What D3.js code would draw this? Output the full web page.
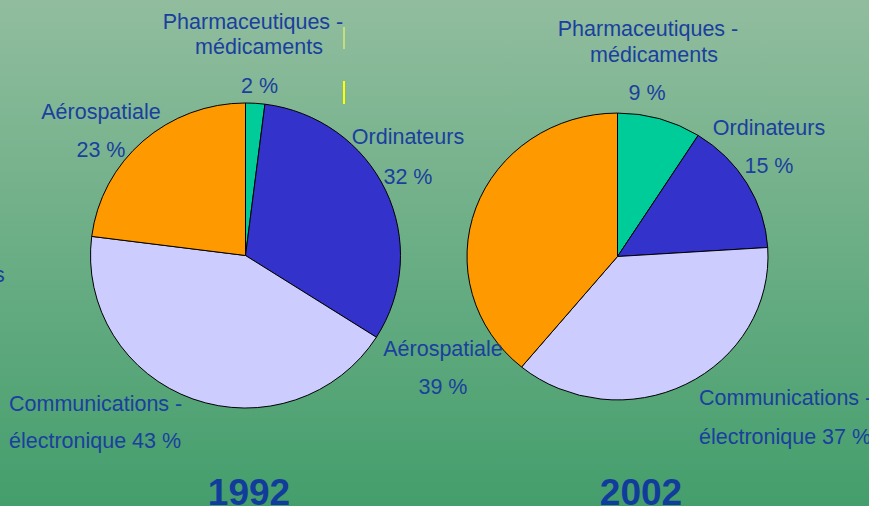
<!DOCTYPE html>
<html>
<head>
<meta charset="utf-8">
<script src="https://cdn.jsdelivr.net/npm/d3@7"></script>
<style>
  body { margin: 0; padding: 0; overflow: hidden; }
  text { font-family: "Liberation Sans", Arial, sans-serif; fill: #1a3f9e; }
</style>
</head>
<body>
<div id="chart"></div>
<script>
//chart size
var svgWidth = 869;
var svgHeight = 506;

//data, slices go clockwise from the top
var sectors = ['Pharmaceutiques - médicaments', 'Ordinateurs', 'Communications - électronique', 'Aérospatiale'];
var values1992 = [2, 32, 43, 23];
var values2002 = [9, 15, 37, 39];
var years = ['1992', '2002'];
var colors = ['#00cc99', '#3333cc', '#ccccff', '#ff9900'];

var svg = d3.select("#chart")
    .append("svg")
    .attr("width", svgWidth)
    .attr("height", svgHeight);

//green background gradient
var grad = svg.append("defs").append("linearGradient")
    .attr("id", "bg")
    .attr("x1", 0).attr("y1", 0).attr("x2", 0).attr("y2", 1);
grad.append("stop").attr("offset", "0%").attr("stop-color", "#91bd9e");
grad.append("stop").attr("offset", "100%").attr("stop-color", "#449e6c");
svg.append("rect")
    .attr("width", svgWidth)
    .attr("height", svgHeight)
    .attr("fill", "url(#bg)");

var color = d3.scaleOrdinal().domain(sectors).range(colors);
var pie = d3.pie().sort(null).value(v => v);

//one pie per year: center, radius and vertical squash
var pies = [
    { values: values1992, cx: 245.5, cy: 255.5, r: 155, sy: 0.984 },
    { values: values2002, cx: 617.5, cy: 256.5, r: 150.5, sy: 0.953 }
];

pies.forEach((p, i) => {
    var arc = d3.arc().innerRadius(0).outerRadius(p.r);
    var g = svg.append("g")
        .attr("transform", `translate(${p.cx}, ${p.cy}) scale(1, ${p.sy})`);
    g.selectAll("path")
        .data(pie(p.values))
        .enter()
        .append("path")
        .attr("d", arc)
        .attr("fill", (d, j) => color(sectors[j]))
        .attr("stroke", "#000")
        .attr("stroke-width", 1)
        .attr("vector-effect", "non-scaling-stroke");

    //year under each pie (cut off by the bottom edge, like the original)
    svg.append("text")
        .text(years[i])
        .attr("x", i === 0 ? 249 : 641)
        .attr("y", 505)
        .attr("text-anchor", "middle")
        .attr("font-size", 37)
        .attr("font-weight", "bold")
        .style("fill", "#123c9c");
});

//labels: [text lines, x, y, anchor, line gap]
var labels1992 = [
    [['Pharmaceutiques -', 'médicaments'], 253, 29, 'middle', 25],
    [[values1992[0] + ' %'], 259.5, 93, 'middle', 0],
    [['Aérospatiale'], 101, 119, 'middle', 0],
    [[values1992[3] + ' %'], 101, 157, 'middle', 0],
    [['Ordinateurs'], 408, 144, 'middle', 0],
    [[values1992[1] + ' %'], 408, 184, 'middle', 0],
    [['Communications -', 'électronique ' + values1992[2] + ' %'], 9, 411, 'start', 37]
];
var labels2002 = [
    [['Pharmaceutiques -', 'médicaments'], 648, 36, 'middle', 26],
    [[values2002[0] + ' %'], 647, 100, 'middle', 0],
    [['Ordinateurs'], 769, 135, 'middle', 0],
    [[values2002[1] + ' %'], 769, 173, 'middle', 0],
    [['Aérospatiale'], 443, 356, 'middle', 0],
    [[values2002[3] + ' %'], 443, 394, 'middle', 0],
    [['Communications -', 'électronique ' + values2002[2] + ' %'], 699, 405, 'start', 39]
];

labels1992.concat(labels2002).forEach(l => {
    var t = svg.append("text")
        .attr("text-anchor", l[3])
        .attr("font-size", 21.5);
    l[0].forEach((line, k) => {
        t.append("tspan")
            .attr("x", l[3] === 'middle' && k === 1 ? l[1] + 6 : l[1])
            .attr("y", l[2] + k * l[4])
            .text(line);
    });
});

//cut off text at the left edge
svg.append("text")
    .text("s")
    .attr("x", -6)
    .attr("y", 282)
    .attr("font-size", 21.5);

//stray yellow marks
svg.append("line")
    .attr("x1", 344).attr("x2", 344)
    .attr("y1", 27).attr("y2", 49)
    .attr("stroke", "#ffff66").attr("stroke-width", 1);
svg.append("line")
    .attr("x1", 344).attr("x2", 344)
    .attr("y1", 81).attr("y2", 104)
    .attr("stroke", "#ffff00").attr("stroke-width", 2);
</script>
</body>
</html>
